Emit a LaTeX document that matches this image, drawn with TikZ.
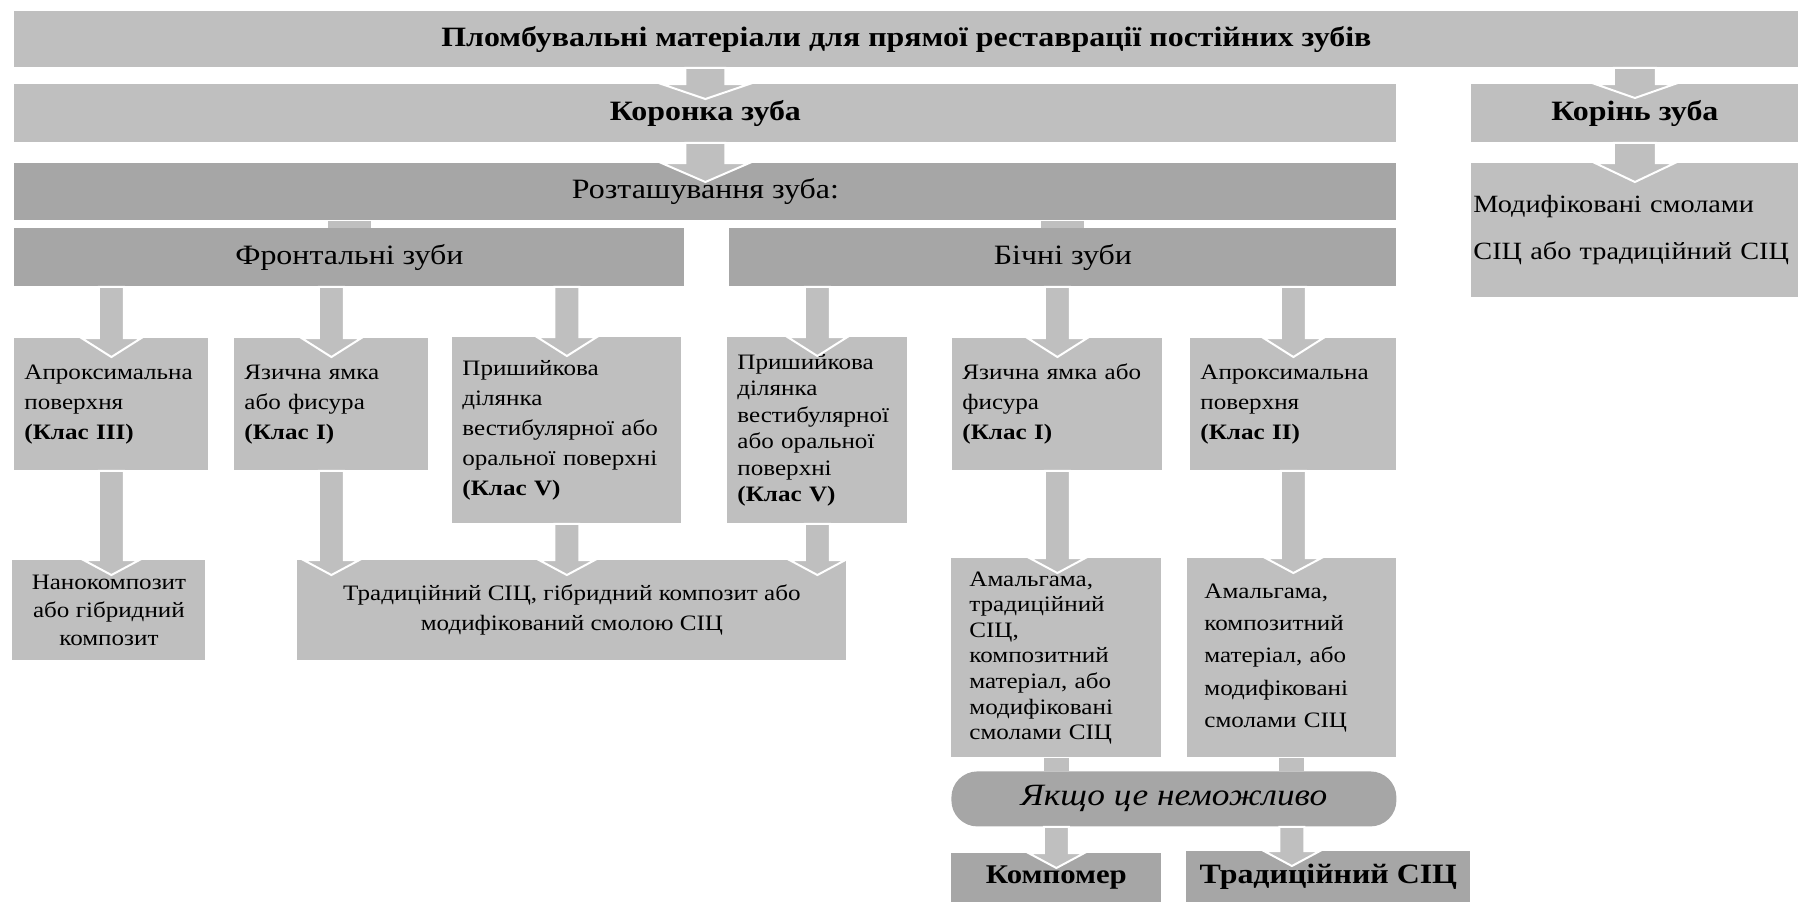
\documentclass[tikz,border=0pt]{standalone}
\usepackage{fontspec}
\setmainfont[FakeStretch=1.14]{Liberation Serif}
\usetikzlibrary{calc}
\definecolor{boxlight}{RGB}{191,191,191}
\definecolor{boxdark}{RGB}{166,166,166}

\begin{document}
\begin{tikzpicture}[x=0.5pt,y=-0.5pt,
            box/.style={fill=boxlight, inner sep=0pt, anchor=north west, align=center},
            dark/.style={box, fill=boxdark},
            lst/.style={box, align=left, inner xsep=5pt, text width=#1-10pt, minimum width=#1,
                font=\fontsize{11}{15}\selectfont},
            blk/.style n args={3}{fill=boxlight, draw=white, line width=1pt,
                to path={let \p1=(\tikztostart), \p2=(\tikztotarget) in
                    (\x1-#1,\y1) -- (\x2-#1,\y2) -- (\x2-#2,\y2) -- (\x2,\y2-#3)
                    -- (\x2+#2,\y2) -- (\x2+#1,\y2) -- (\x1+#1,\y1) -- cycle}},
            stub/.style={fill=boxlight,
                to path={let \p1=(\tikztostart), \p2=(\tikztotarget) in
                    (\x1-#1,\y1) rectangle (\x2+#1,\y2)}}]
            \useasboundingbox (0,0) rectangle (1798,902);
            \node[box, font=\bfseries\fontsize{14}{16}\selectfont, minimum width=892pt, minimum height=28pt] (a) at (14,11)
                {Пломбувальні матеріали для прямої реставрації постійних зубів};
            \node[box, font=\bfseries\fontsize{14}{16}\selectfont, minimum width=691pt, minimum height=29pt] (b) at (14,84)
                {Коронка зуба};
            \node[box, font=\bfseries\fontsize{14}{16}\selectfont, minimum width=163.5pt, minimum height=29pt] (c) at (1471,84)
                {Корінь зуба};
            \node[dark, font=\fontsize{14}{16}\selectfont, minimum width=691pt, minimum height=28.5pt] (d) at (14,163)
                {Розташування зуба:};
            \node[box, align=left, inner xsep=1pt, text width=161.5pt, minimum height=67pt,
                font=\fontsize{12.4}{23.5}\selectfont] (e) at (1471,163)
                {Модифіковані смолами\\СІЦ~або~традиційний~СІЦ\\[-5pt]};
            \node[dark, font=\fontsize{14}{16}\selectfont, minimum width=335pt, minimum height=29pt] (f) at (14,228)
                {Фронтальні зуби};
            \node[dark, font=\fontsize{14}{16}\selectfont, minimum width=333.5pt, minimum height=29pt] (g) at (729,228)
                {Бічні зуби};
            \node[lst=97pt, minimum height=66pt] (h) at (14,338)
                {Апроксимальна\\поверхня\\\textbf{(Клас III)}};
            \node[lst=97pt, minimum height=66pt] (i) at (234,338)
                {Язична ямка\\або фисура\\\textbf{(Клас I)}};
            \node[lst=114.5pt, minimum height=93pt] (j) at (452,337)
                {Пришийкова\\ділянка\\вестибулярної~або\\оральної~поверхні\\\textbf{(Клас V)}};
            \node[lst=90pt, inner xsep=4.5pt, minimum height=93pt, font=\fontsize{11}{13.25}\selectfont] (k) at (727,337)
                {Пришийкова\\ділянка\\вестибулярної\\або~оральної\\поверхні\\\textbf{(Клас V)}};
            \node[lst=105pt, minimum height=66pt] (l) at (952,338)
                {Язична ямка або\\фисура\\\textbf{(Клас I)}};
            \node[lst=103pt, minimum height=66pt] (m) at (1190,338)
                {Апроксимальна\\поверхня\\\textbf{(Клас II)}};
            \node[box, font=\fontsize{11}{14}\selectfont, minimum width=96.5pt, minimum height=50pt] (n) at (12,560)
                {Нанокомпозит\\або гібридний\\композит};
            \node[box, font=\fontsize{11}{15}\selectfont, minimum width=274.5pt, minimum height=50pt] (o) at (297,560)
                {Традиційний СІЦ, гібридний композит або\\модифікований смолою СІЦ};
            \node[lst=105pt, inner xsep=9pt, text width=87pt, minimum height=99.5pt, font=\fontsize{11}{12.8}\selectfont] (p) at (951,558)
                {Амальгама,\\традиційний\\СІЦ,\\композитний\\матеріал, або\\модифіковані\\смолами СІЦ};
            \node[lst=104.5pt, inner xsep=8.5pt, text width=87.5pt, minimum height=99.5pt, font=\fontsize{11}{16.2}\selectfont] (q) at (1187,558)
                {Амальгама,\\композитний\\матеріал, або\\модифіковані\\смолами СІЦ};
            \node[dark, rounded corners=13pt, font=\itshape\fontsize{15.5}{18}\selectfont, minimum width=222.5pt, minimum height=27.5pt] (r) at (951,771)
                {Якщо це неможливо};
            \node[dark, font=\bfseries\fontsize{13.5}{16}\selectfont, minimum width=105pt, minimum height=24.5pt] (s) at (951,853)
                {Компомер};
            \node[dark, font=\bfseries\fontsize{14}{16}\selectfont, minimum width=142pt, minimum height=25.5pt] (t) at (1186,851)
                {Традиційний СІЦ};
            \draw[blk={10pt}{22pt}{7.5pt}] (a.south -| b) to (b.north);
            \draw[blk={10.5pt}{20pt}{7pt}] (a.south -| c) to (c.north);
            \draw[blk={10pt}{22pt}{9.5pt}] (b.south) to (d.north -| b);
            \draw[blk={10.5pt}{20pt}{9.5pt}] (c.south) to (e.north);
            \fill[stub=10.75pt] (d.south -| f) to (f.north);
            \fill[stub=10.75pt] (d.south -| g) to (g.north);
            \draw[blk={6.25pt}{15pt}{9.5pt}] (f.south -| h) to (h.north);
            \draw[blk={6.25pt}{15pt}{9.5pt}] (f.south -| i) to (i.north);
            \draw[blk={6.25pt}{15pt}{9.5pt}] (f.south -| j) to (j.north);
            \draw[blk={6.25pt}{15pt}{9.5pt}] (g.south -| k) to (k.north);
            \draw[blk={6.25pt}{15pt}{9.5pt}] (g.south -| l) to (l.north);
            \draw[blk={6.25pt}{15pt}{9.5pt}] (g.south -| m) to (m.north);
            \draw[blk={6.25pt}{14pt}{7.5pt}] (h.south) to (n.north -| h);
            \draw[blk={6.25pt}{14pt}{7.5pt}] (i.south) to (o.north -| i);
            \draw[blk={6.25pt}{14pt}{7.5pt}] (j.south) to (o.north -| j);
            \draw[blk={6.25pt}{14pt}{7.5pt}] (k.south) to (o.north -| k);
            \draw[blk={6.25pt}{14pt}{7.5pt}] (l.south) to (p.north -| l);
            \draw[blk={6.25pt}{14pt}{7.5pt}] (m.south) to (q.north -| m);
            \fill[stub=6.25pt] (p.south) to (r.north -| p);
            \fill[stub=6.25pt] (q.south) to (r.north -| q);
            \draw[blk={6.25pt}{14pt}{7.5pt}] (r.south -| s) to (s.north);
            \draw[blk={6.25pt}{14pt}{7.5pt}] (r.south -| q) to (t.north -| q);
        \end{tikzpicture}
\end{document}
